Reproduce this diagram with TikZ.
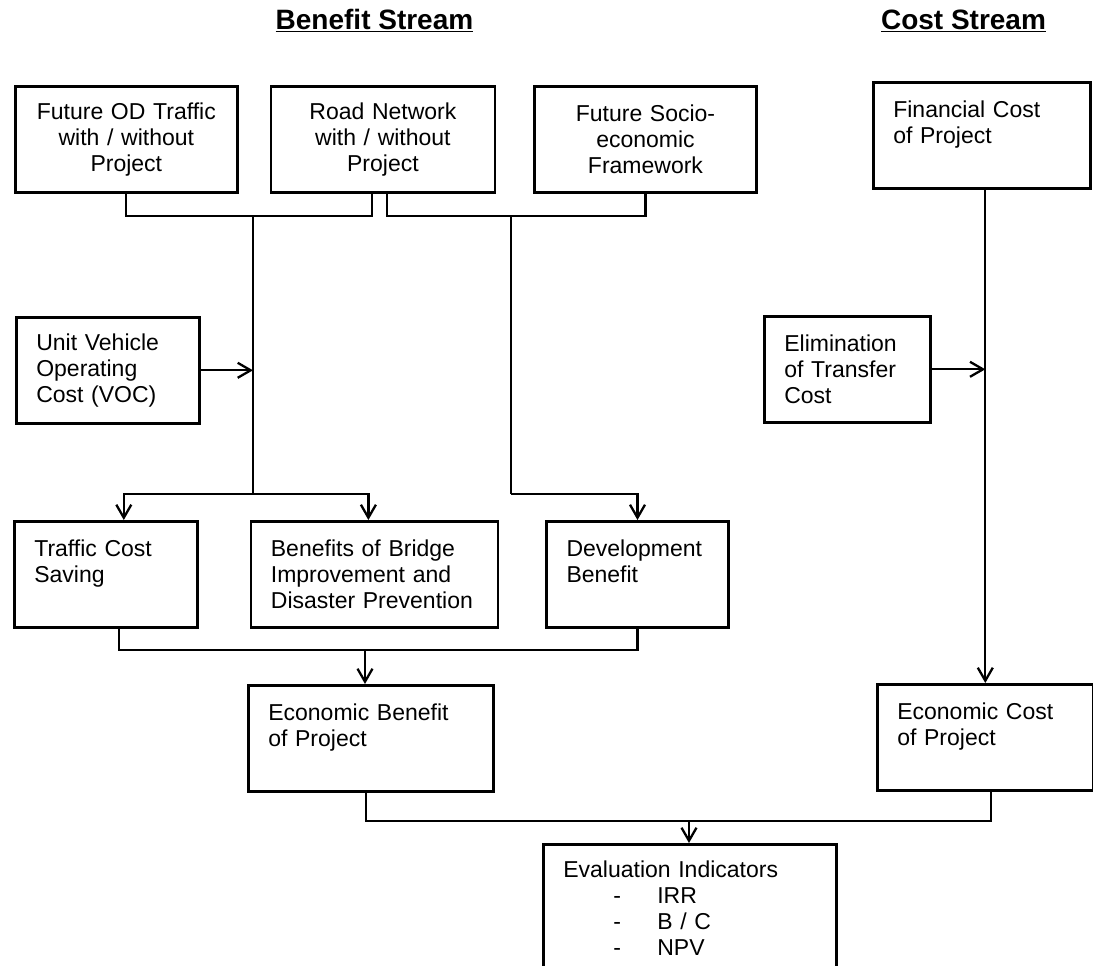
\documentclass[tikz,border=0pt]{standalone}
\usepackage{fontspec}
\setmainfont{Liberation Sans}
\usepackage{tikz}
\usetikzlibrary{positioning,arrows.meta}

\begin{document}
\begin{tikzpicture}[x=1pt, y=-1pt, node distance = 0pt,
  block/.style args = {#1,#2}{draw, line width=2.6pt, text width=#1, minimum height=106pt, inner xsep=20pt, inner ysep=0pt, align=#2, font=\fontsize{23}{26}\selectfont},
  head/.style = {anchor=base, font=\fontsize{28}{32}\selectfont\bfseries},
  conn/.style = {line width=2.3pt},
  arr/.style = {conn, -{Straight Barb[length=13pt, width=15pt]}}]
\useasboundingbox (0,0) rectangle (1093,966);
\fill[white] (0,0) rectangle (1093,966);
\node (benHead) [head] at (374.5,30) {\underline{Benefit Stream}};
\node (costHead) [head] at (963.5,30) {\underline{Cost Stream}};
\node (futOD) [block={182pt,center}, anchor=north west] at (14,85) {Future OD Traffic\\with / without\\Project};
\node (roadNet) [block={184pt,center}, right=31pt of futOD] {Road Network\\with / without\\Project};
\node (futSocio) [block={182pt,center}, right=37pt of roadNet] {Future Socio-\\economic\\Framework};
\node (finCost) [block={177pt,left}, anchor=north west] at (872,81) {Financial Cost\\of Project\\\mbox{}};
\node (unitVOC) [block={143pt,left}, anchor=north west] at (15,316) {Unit Vehicle\\Operating\\Cost (VOC)};
\node (elimCost) [block={126pt,left}, anchor=north west] at (763,315) {Elimination\\of Transfer\\Cost};
\node (trafSave) [block={143pt,left}, anchor=north west] at (13,520) {Traffic Cost\\Saving\\\mbox{}};
\node (bridgeBen) [block={207pt,left}, right=51pt of trafSave] {Benefits of Bridge\\Improvement and\\Disaster Prevention};
\node (devBen) [block={142pt,left}, right=46pt of bridgeBen] {Development\\Benefit\\\mbox{}};
\node (econBen) [block={205pt,left}, anchor=north west] at (247,684) {Economic Benefit\\of Project\\\mbox{}};
\node (econCost) [block={176pt,left}, anchor=north west] at (876,683) {Economic Cost\\of Project\\\mbox{}};
\node (evalInd) [block={253pt,left}, minimum height=0pt, inner ysep=17pt, anchor=north west] at (542,843) {Evaluation Indicators\\\hspace*{50pt}\makebox[44pt][l]{-}IRR\\\hspace*{50pt}\makebox[44pt][l]{-}B / C\\\hspace*{50pt}\makebox[44pt][l]{-}NPV};
\coordinate (jOne) at (253,216);
\coordinate (jTwo) at (511,216);
\coordinate (kOne) at (253,494);
\coordinate (kTwo) at (511,494);
\coordinate (mOne) at (365,650);
\coordinate (mTwo) at (689,821);
\draw[conn] (futOD.south) |- (jOne) -| ([xshift=-11pt]roadNet.south);
\draw[conn] ([xshift=4pt]roadNet.south) |- (jTwo) -| (futSocio.south);
\draw[conn] (jOne) -- (kOne);
\draw[conn] (jTwo) -- (kTwo);
\draw[arr] (unitVOC.east) -- (unitVOC.east -| jOne);
\draw[arr] (kOne) -| ([xshift=18pt]trafSave.north);
\draw[arr] (kOne) -| ([xshift=-6pt]bridgeBen.north);
\draw[arr] (kTwo) -| (devBen.north);
\draw[conn] ([xshift=13pt]trafSave.south) |- (mOne) -| (devBen.south);
\draw[arr] (mOne) -- (mOne |- econBen.north);
\draw[arr] (econCost.north |- finCost.south) -- (econCost.north);
\draw[arr] (elimCost.east) -- (elimCost.east -| econCost.north);
\draw[conn] ([xshift=-5pt]econBen.south) |- (mTwo) -| ([xshift=6pt]econCost.south);
\draw[arr] (mTwo) -- (mTwo |- evalInd.north);
\end{tikzpicture}
\end{document}
